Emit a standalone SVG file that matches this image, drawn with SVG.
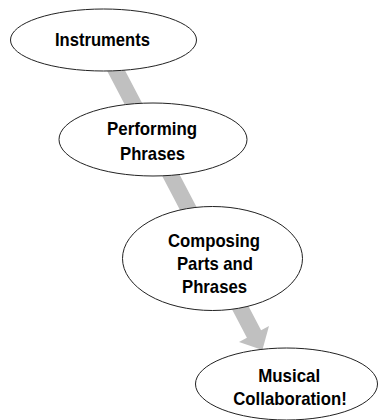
<svg xmlns="http://www.w3.org/2000/svg" width="378" height="420" viewBox="0 0 378 420">
<style>
.node ellipse{fill:#fff;stroke:#222;stroke-width:1}
.node text{font-family:"Liberation Sans",Arial,sans-serif;font-weight:bold;font-size:19px;fill:#000;text-anchor:middle}
.conn{fill:#c0c0c0;stroke:none}
</style>
<rect width="378" height="420" fill="#fff"/>
<g id="connectors">
<polygon class="conn" points="107.1,36.3 261.1,330.3 269,326.1 262.4,349.9 239,341.9 246.9,337.7 92.9,43.7"/>
</g>
<g id="n1" class="node">
<ellipse cx="103.5" cy="40" rx="93" ry="31"/>
<text x="102.5" y="46.3" textLength="95" lengthAdjust="spacingAndGlyphs">Instruments</text>
</g>
<g id="n2" class="node">
<ellipse cx="153" cy="139.5" rx="94" ry="36.5"/>
<text x="152" y="135" textLength="90" lengthAdjust="spacingAndGlyphs">Performing</text>
<text x="152.5" y="159.5" textLength="65" lengthAdjust="spacingAndGlyphs">Phrases</text>
</g>
<g id="n3" class="node">
<ellipse cx="212.5" cy="258.5" rx="90" ry="52"/>
<text x="214" y="246.7" textLength="92" lengthAdjust="spacingAndGlyphs">Composing</text>
<text x="215" y="270" textLength="76" lengthAdjust="spacingAndGlyphs">Parts and</text>
<text x="214.5" y="293.3" textLength="65" lengthAdjust="spacingAndGlyphs">Phrases</text>
</g>
<g id="n4" class="node">
<ellipse cx="286.5" cy="384" rx="91" ry="36"/>
<text x="289.2" y="381.7" textLength="62" lengthAdjust="spacingAndGlyphs">Musical</text>
<text x="290" y="405" textLength="113.5" lengthAdjust="spacingAndGlyphs">Collaboration!</text>
</g>
</svg>
